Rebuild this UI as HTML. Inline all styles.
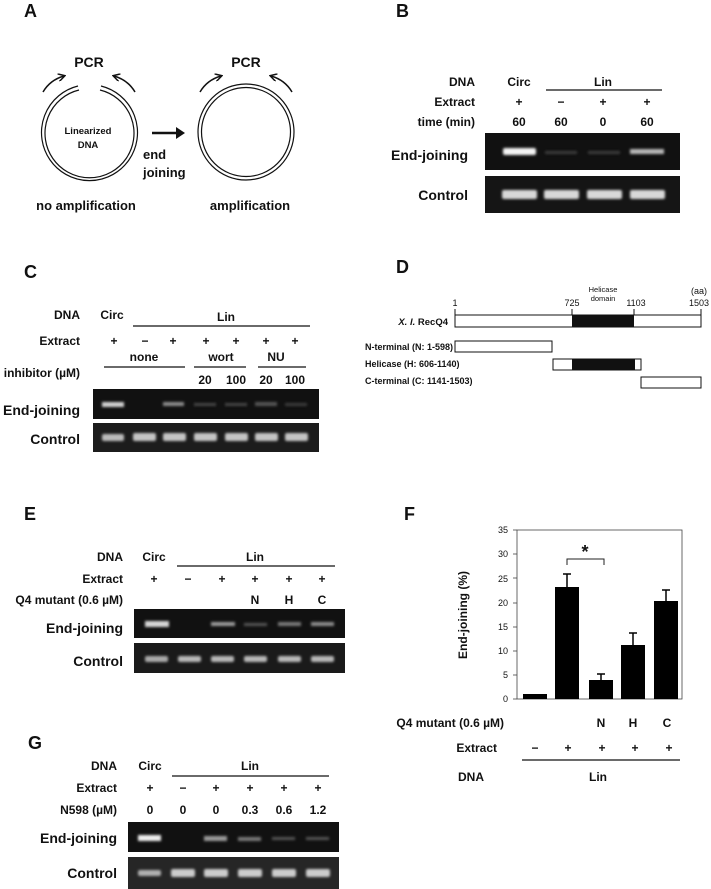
<!DOCTYPE html>
<html><head><meta charset="utf-8"><style>
html,body{margin:0;padding:0;background:#fff;}
svg{display:block;}
text{font-family:"Liberation Sans",Arial,sans-serif;fill:#111;}
.b{font-weight:bold;}
</style></head><body>
<svg width="711" height="889" viewBox="0 0 711 889" xmlns="http://www.w3.org/2000/svg">
<defs>
<filter id="bl" x="-20%" y="-80%" width="140%" height="260%"><feGaussianBlur stdDeviation="1.2"/></filter>
<marker id="ah" markerWidth="8" markerHeight="8" refX="6" refY="4" orient="auto" markerUnits="userSpaceOnUse"><path d="M0,0 L7,4 L0,8" fill="none" stroke="#111" stroke-width="1.5"/></marker>
</defs>

<!-- Panel A -->
<text x="24" y="17" font-size="18" class="b">A</text>
<text x="89" y="67" font-size="14" text-anchor="middle" class="b">PCR</text>
<text x="246" y="67" font-size="14" text-anchor="middle" class="b">PCR</text>
<path d="M78,86 A48,48 0 1 0 101,86" fill="none" stroke="#111" stroke-width="1.2"/>
<path d="M79,90 A44.5,44.5 0 1 0 100,90" fill="none" stroke="#111" stroke-width="1.2"/>
<circle cx="246" cy="132" r="48" fill="none" stroke="#111" stroke-width="1.2"/>
<circle cx="246" cy="132" r="44.5" fill="none" stroke="#111" stroke-width="1.2"/>
<path d="M43,92 Q50,80 64,76" fill="none" stroke="#111" stroke-width="1.5" marker-end="url(#ah)"/>
<path d="M135,92 Q128,80 114,76" fill="none" stroke="#111" stroke-width="1.5" marker-end="url(#ah)"/>
<path d="M200,92 Q207,80 221,76" fill="none" stroke="#111" stroke-width="1.5" marker-end="url(#ah)"/>
<path d="M292,92 Q285,80 271,76" fill="none" stroke="#111" stroke-width="1.5" marker-end="url(#ah)"/>
<text x="88" y="134" font-size="9.5" text-anchor="middle" class="b">Linearized</text>
<text x="88" y="148" font-size="9.5" text-anchor="middle" class="b">DNA</text>
<line x1="152" y1="133" x2="178" y2="133" stroke="#111" stroke-width="2.5"/>
<path d="M176,127 L185,133 L176,139 Z" fill="#111"/>
<text x="143" y="159" font-size="13" class="b">end</text>
<text x="143" y="177" font-size="13" class="b">joining</text>
<text x="86" y="210" font-size="13" text-anchor="middle" class="b">no amplification</text>
<text x="250" y="210" font-size="13" text-anchor="middle" class="b">amplification</text>

<!-- Panel B -->
<text x="396" y="17" font-size="18" class="b">B</text>
<g font-size="12" class="b">
<text x="475" y="86" text-anchor="end" class="b">DNA</text>
<text x="475" y="106" text-anchor="end" class="b">Extract</text>
<text x="475" y="126" text-anchor="end" class="b">time (min)</text>
<text x="519" y="86" text-anchor="middle" class="b">Circ</text>
<text x="603" y="86" text-anchor="middle" class="b">Lin</text>
<text x="519" y="106" text-anchor="middle" class="b">+</text><text x="561" y="106" text-anchor="middle" class="b">−</text><text x="603" y="106" text-anchor="middle" class="b">+</text><text x="647" y="106" text-anchor="middle" class="b">+</text>
<text x="519" y="126" text-anchor="middle" class="b">60</text><text x="561" y="126" text-anchor="middle" class="b">60</text><text x="603" y="126" text-anchor="middle" class="b">0</text><text x="647" y="126" text-anchor="middle" class="b">60</text>
</g>
<line x1="546" y1="90" x2="662" y2="90" stroke="#111" stroke-width="1.2"/>
<text x="468" y="160" font-size="14" text-anchor="end" class="b">End-joining</text>
<text x="468" y="200" font-size="14" text-anchor="end" class="b">Control</text>
<rect x="485" y="133" width="195" height="37" fill="#111"/>
<rect x="485" y="176" width="195" height="37" fill="#151515"/>
<g filter="url(#bl)">
<rect x="503" y="148" width="33" height="7" rx="2" fill="#f4f4f4"/>
<rect x="545" y="151" width="32" height="3" fill="#3a3a3a"/>
<rect x="588" y="151" width="32" height="3" fill="#3a3a3a"/>
<rect x="630" y="149" width="34" height="5" fill="#b8b8b8"/>
<rect x="502" y="190" width="35" height="9" rx="2" fill="#d8d8d8"/>
<rect x="544" y="190" width="35" height="9" rx="2" fill="#d8d8d8"/>
<rect x="587" y="190" width="35" height="9" rx="2" fill="#d8d8d8"/>
<rect x="630" y="190" width="35" height="9" rx="2" fill="#d8d8d8"/>
</g>

<!-- Panel C -->
<text x="24" y="278" font-size="18" class="b">C</text>
<g font-size="12">
<text x="80" y="319" text-anchor="end" class="b">DNA</text>
<text x="80" y="345" text-anchor="end" class="b">Extract</text>
<text x="80" y="377" text-anchor="end" class="b">inhibitor (µM)</text>
<text x="112" y="319" text-anchor="middle" class="b">Circ</text>
<text x="226" y="321" text-anchor="middle" class="b">Lin</text>
<text x="114" y="345" text-anchor="middle" class="b">+</text><text x="145" y="345" text-anchor="middle" class="b">−</text><text x="173" y="345" text-anchor="middle" class="b">+</text><text x="206" y="345" text-anchor="middle" class="b">+</text><text x="236" y="345" text-anchor="middle" class="b">+</text><text x="266" y="345" text-anchor="middle" class="b">+</text><text x="295" y="345" text-anchor="middle" class="b">+</text>
<text x="144" y="361" text-anchor="middle" class="b">none</text>
<text x="221" y="361" text-anchor="middle" class="b">wort</text>
<text x="276" y="361" text-anchor="middle" class="b">NU</text>
<text x="205" y="384" text-anchor="middle" class="b">20</text><text x="236" y="384" text-anchor="middle" class="b">100</text><text x="266" y="384" text-anchor="middle" class="b">20</text><text x="295" y="384" text-anchor="middle" class="b">100</text>
</g>
<line x1="133" y1="326" x2="310" y2="326" stroke="#111" stroke-width="1.2"/>
<line x1="104" y1="367" x2="185" y2="367" stroke="#111" stroke-width="1.2"/>
<line x1="194" y1="367" x2="246" y2="367" stroke="#111" stroke-width="1.2"/>
<line x1="258" y1="367" x2="306" y2="367" stroke="#111" stroke-width="1.2"/>
<text x="80" y="415" font-size="14" text-anchor="end" class="b">End-joining</text>
<text x="80" y="444" font-size="14" text-anchor="end" class="b">Control</text>
<rect x="93" y="389" width="226" height="30" fill="#111"/>
<rect x="93" y="423" width="226" height="29" fill="#1c1c1c"/>
<g filter="url(#bl)">
<rect x="102" y="402" width="22" height="5" fill="#d0d0d0"/>
<rect x="163" y="402" width="21" height="4" fill="#8a8a8a"/>
<rect x="194" y="403" width="22" height="3" fill="#444"/>
<rect x="225" y="403" width="22" height="3" fill="#444"/>
<rect x="255" y="402" width="22" height="4" fill="#555"/>
<rect x="285" y="403" width="22" height="3" fill="#3a3a3a"/>
<rect x="102" y="434" width="22" height="7" rx="2" fill="#bbb"/>
<rect x="133" y="433" width="23" height="8" rx="2" fill="#c4c4c4"/>
<rect x="163" y="433" width="23" height="8" rx="2" fill="#c4c4c4"/>
<rect x="194" y="433" width="23" height="8" rx="2" fill="#c4c4c4"/>
<rect x="225" y="433" width="23" height="8" rx="2" fill="#c4c4c4"/>
<rect x="255" y="433" width="23" height="8" rx="2" fill="#c4c4c4"/>
<rect x="285" y="433" width="23" height="8" rx="2" fill="#c4c4c4"/>
</g>

<!-- Panel D -->
<text x="396" y="273" font-size="18" class="b">D</text>
<g font-size="9">
<text x="455" y="306" text-anchor="middle">1</text>
<text x="572" y="306" text-anchor="middle">725</text>
<text x="636" y="306" text-anchor="middle">1103</text>
<text x="699" y="306" text-anchor="middle">1503</text>
<text x="699" y="294" text-anchor="middle">(aa)</text>
<text x="603" y="292" text-anchor="middle" font-size="7.5">Helicase</text>
<text x="603" y="301" text-anchor="middle" font-size="7.5">domain</text>
</g>
<line x1="455" y1="309" x2="455" y2="315" stroke="#111"/>
<line x1="572" y1="309" x2="572" y2="315" stroke="#111"/>
<line x1="634" y1="309" x2="634" y2="315" stroke="#111"/>
<line x1="701" y1="309" x2="701" y2="315" stroke="#111"/>
<rect x="455" y="315" width="246" height="12" fill="#fff" stroke="#111"/>
<rect x="572" y="315" width="62" height="12" fill="#111"/>
<text x="448" y="325" font-size="9.5" text-anchor="end" class="b"><tspan font-style="italic">X. l.</tspan> RecQ4</text>
<rect x="455" y="341" width="97" height="11" fill="#fff" stroke="#111"/>
<rect x="553" y="359" width="88" height="11" fill="#fff" stroke="#111"/>
<rect x="572" y="359" width="63" height="11" fill="#111"/>
<rect x="641" y="377" width="60" height="11" fill="#fff" stroke="#111"/>
<g font-size="9">
<text x="365" y="350" class="b">N-terminal (N: 1-598)</text>
<text x="365" y="367" class="b">Helicase (H: 606-1140)</text>
<text x="365" y="384" class="b">C-terminal (C: 1141-1503)</text>
</g>

<!-- Panel E -->
<text x="24" y="520" font-size="18" class="b">E</text>
<g font-size="12">
<text x="123" y="561" text-anchor="end" class="b">DNA</text>
<text x="123" y="583" text-anchor="end" class="b">Extract</text>
<text x="123" y="604" text-anchor="end" class="b">Q4 mutant (0.6 µM)</text>
<text x="154" y="561" text-anchor="middle" class="b">Circ</text>
<text x="255" y="561" text-anchor="middle" class="b">Lin</text>
<text x="154" y="583" text-anchor="middle" class="b">+</text><text x="188" y="583" text-anchor="middle" class="b">−</text><text x="222" y="583" text-anchor="middle" class="b">+</text><text x="255" y="583" text-anchor="middle" class="b">+</text><text x="289" y="583" text-anchor="middle" class="b">+</text><text x="322" y="583" text-anchor="middle" class="b">+</text>
<text x="255" y="604" text-anchor="middle" class="b">N</text><text x="289" y="604" text-anchor="middle" class="b">H</text><text x="322" y="604" text-anchor="middle" class="b">C</text>
</g>
<line x1="177" y1="566" x2="335" y2="566" stroke="#111" stroke-width="1.2"/>
<text x="123" y="633" font-size="14" text-anchor="end" class="b">End-joining</text>
<text x="123" y="666" font-size="14" text-anchor="end" class="b">Control</text>
<rect x="134" y="609" width="211" height="29" fill="#111"/>
<rect x="134" y="643" width="211" height="30" fill="#1a1a1a"/>
<g filter="url(#bl)">
<rect x="145" y="621" width="24" height="6" fill="#d6d6d6"/>
<rect x="211" y="622" width="24" height="4" fill="#999"/>
<rect x="244" y="623" width="23" height="3" fill="#555"/>
<rect x="278" y="622" width="23" height="4" fill="#777"/>
<rect x="311" y="622" width="23" height="4" fill="#8a8a8a"/>
<rect x="145" y="656" width="23" height="6" rx="2" fill="#aaa"/>
<rect x="178" y="656" width="23" height="6" rx="2" fill="#b8b8b8"/>
<rect x="211" y="656" width="23" height="6" rx="2" fill="#b8b8b8"/>
<rect x="244" y="656" width="23" height="6" rx="2" fill="#b8b8b8"/>
<rect x="278" y="656" width="23" height="6" rx="2" fill="#b8b8b8"/>
<rect x="311" y="656" width="23" height="6" rx="2" fill="#b8b8b8"/>
</g>

<!-- Panel G -->
<text x="28" y="749" font-size="18" class="b">G</text>
<g font-size="12">
<text x="117" y="770" text-anchor="end" class="b">DNA</text>
<text x="117" y="792" text-anchor="end" class="b">Extract</text>
<text x="117" y="814" text-anchor="end" class="b">N598 (µM)</text>
<text x="150" y="770" text-anchor="middle" class="b">Circ</text>
<text x="250" y="770" text-anchor="middle" class="b">Lin</text>
<text x="150" y="792" text-anchor="middle" class="b">+</text><text x="183" y="792" text-anchor="middle" class="b">−</text><text x="216" y="792" text-anchor="middle" class="b">+</text><text x="250" y="792" text-anchor="middle" class="b">+</text><text x="284" y="792" text-anchor="middle" class="b">+</text><text x="318" y="792" text-anchor="middle" class="b">+</text>
<text x="150" y="814" text-anchor="middle" class="b">0</text><text x="183" y="814" text-anchor="middle" class="b">0</text><text x="216" y="814" text-anchor="middle" class="b">0</text><text x="250" y="814" text-anchor="middle" class="b">0.3</text><text x="284" y="814" text-anchor="middle" class="b">0.6</text><text x="318" y="814" text-anchor="middle" class="b">1.2</text>
</g>
<line x1="172" y1="776" x2="329" y2="776" stroke="#111" stroke-width="1.2"/>
<text x="117" y="843" font-size="14" text-anchor="end" class="b">End-joining</text>
<text x="117" y="878" font-size="14" text-anchor="end" class="b">Control</text>
<rect x="128" y="822" width="211" height="30" fill="#111"/>
<rect x="128" y="857" width="211" height="32" fill="#262626"/>
<g filter="url(#bl)">
<rect x="138" y="835" width="23" height="6" fill="#eee"/>
<rect x="204" y="836" width="23" height="5" fill="#999"/>
<rect x="238" y="837" width="23" height="4" fill="#777"/>
<rect x="272" y="837" width="23" height="3" fill="#555"/>
<rect x="306" y="837" width="23" height="3" fill="#555"/>
<rect x="138" y="870" width="23" height="6" rx="2" fill="#b0b0b0"/>
<rect x="171" y="869" width="24" height="8" rx="2" fill="#ccc"/>
<rect x="204" y="869" width="24" height="8" rx="2" fill="#ccc"/>
<rect x="238" y="869" width="24" height="8" rx="2" fill="#ccc"/>
<rect x="272" y="869" width="24" height="8" rx="2" fill="#ccc"/>
<rect x="306" y="869" width="24" height="8" rx="2" fill="#ccc"/>
</g>

<!-- Panel F -->
<text x="404" y="520" font-size="18" class="b">F</text>
<rect x="517" y="530" width="165" height="169" fill="none" stroke="#444" stroke-width="0.8"/>
<g font-size="9" fill="#555" text-anchor="end">
<text x="508" y="533" fill="#555">35</text>
<text x="508" y="557" fill="#555">30</text>
<text x="508" y="582" fill="#555">25</text>
<text x="508" y="606" fill="#555">20</text>
<text x="508" y="630" fill="#555">15</text>
<text x="508" y="654" fill="#555">10</text>
<text x="508" y="678" fill="#555">5</text>
<text x="508" y="702" fill="#555">0</text>
</g>
<g stroke="#444" stroke-width="0.8">
<line x1="513" y1="530" x2="517" y2="530"/><line x1="513" y1="554" x2="517" y2="554"/><line x1="513" y1="578" x2="517" y2="578"/><line x1="513" y1="603" x2="517" y2="603"/><line x1="513" y1="627" x2="517" y2="627"/><line x1="513" y1="651" x2="517" y2="651"/><line x1="513" y1="675" x2="517" y2="675"/><line x1="513" y1="699" x2="517" y2="699"/>
</g>
<g fill="#000">
<rect x="523" y="694" width="24" height="5"/>
<rect x="555" y="587" width="24" height="112"/>
<rect x="589" y="680" width="24" height="19"/>
<rect x="621" y="645" width="24" height="54"/>
<rect x="654" y="601" width="24" height="98"/>
</g>
<g stroke="#000" stroke-width="1.5">
<line x1="567" y1="587" x2="567" y2="574"/><line x1="563" y1="574" x2="571" y2="574"/>
<line x1="601" y1="680" x2="601" y2="674"/><line x1="597" y1="674" x2="605" y2="674"/>
<line x1="633" y1="645" x2="633" y2="633"/><line x1="629" y1="633" x2="637" y2="633"/>
<line x1="666" y1="601" x2="666" y2="590"/><line x1="662" y1="590" x2="670" y2="590"/>
</g>
<path d="M567,565 L567,559 L604,559 L604,565" fill="none" stroke="#222" stroke-width="1"/>
<text x="585" y="558" font-size="18" text-anchor="middle" class="b">*</text>
<text transform="translate(467,615) rotate(-90)" font-size="12" text-anchor="middle" class="b">End-joining (%)</text>
<g font-size="12">
<text x="504" y="727" text-anchor="end" class="b">Q4 mutant (0.6 µM)</text>
<text x="601" y="727" text-anchor="middle" class="b">N</text><text x="633" y="727" text-anchor="middle" class="b">H</text><text x="667" y="727" text-anchor="middle" class="b">C</text>
<text x="497" y="752" text-anchor="end" class="b">Extract</text>
<text x="535" y="752" text-anchor="middle" class="b">−</text><text x="568" y="752" text-anchor="middle" class="b">+</text><text x="602" y="752" text-anchor="middle" class="b">+</text><text x="635" y="752" text-anchor="middle" class="b">+</text><text x="669" y="752" text-anchor="middle" class="b">+</text>
<text x="484" y="781" text-anchor="end" class="b">DNA</text>
<text x="598" y="781" text-anchor="middle" class="b">Lin</text>
</g>
<line x1="522" y1="760" x2="680" y2="760" stroke="#111" stroke-width="1.2"/>
</svg>
</body></html>
